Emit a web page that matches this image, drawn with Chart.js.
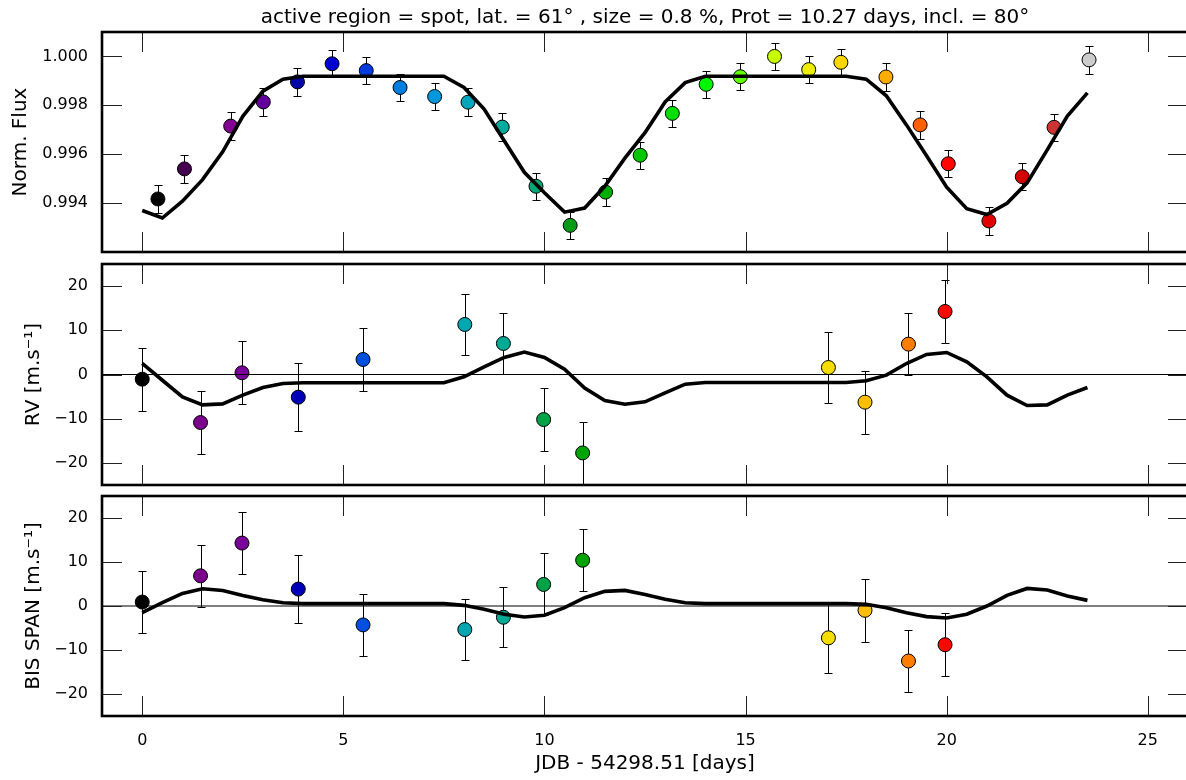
<!DOCTYPE html>
<html>
<head>
<meta charset="utf-8">
<script src="https://cdn.jsdelivr.net/npm/chart.js@4.4.0/dist/chart.umd.min.js"></script>
<style>
  body { margin: 0; background: #fff; overflow: hidden; width: 1186px; height: 780px; position: relative; }
  canvas { position: absolute; left: 0; }
</style>
</head>
<body>
<canvas id="fluxChart" width="1188" height="260" style="top:0px"></canvas>
<canvas id="rvChart" width="1188" height="236" style="top:256px"></canvas>
<canvas id="bisChart" width="1188" height="292" style="top:488px"></canvas>
<script>
// photometry (days since JDB 54298.51)
const fluxTime = [0.39, 1.05, 2.20, 3.01, 3.86, 4.72, 5.57, 6.41, 7.27, 8.10, 8.95, 9.79, 10.64, 11.52,
  12.38, 13.18, 14.02, 14.87, 15.72, 16.57, 17.37, 18.49, 19.34, 20.04, 21.05, 21.88, 22.67, 23.54];
const fluxValue = [0.99417, 0.99540, 0.99715, 0.99814, 0.99896, 0.99970, 0.99942, 0.99873, 0.99836, 0.99813,
  0.99711, 0.99469, 0.99309, 0.99445, 0.99596, 0.99767, 0.99886, 0.99917, 1.00000, 0.99946, 0.99976, 0.99916,
  0.99720, 0.99561, 0.99327, 0.99508, 0.99710, 0.99986];
const fluxErr = [0.00056, 0.00056, 0.00056, 0.00056, 0.00056, 0.00056, 0.00056, 0.00056, 0.00056, 0.00056,
  0.00056, 0.00056, 0.00056, 0.00056, 0.00056, 0.00056, 0.00056, 0.00056, 0.00056, 0.00056, 0.00056, 0.00056,
  0.00056, 0.00056, 0.00056, 0.00056, 0.00056, 0.00056];

// spectroscopy
const rvTime = [0.00, 1.45, 2.48, 3.88, 5.49, 8.02, 8.98, 9.98, 10.95, 17.06, 17.97, 19.05, 19.96];
const rvValue = [-1.06, -10.87, 0.38, -5.13, 3.40, 11.32, 7.02, -10.19, -17.74, 1.58, -6.26, 6.87, 14.26];
const rvErr = [7.1, 7.1, 7.1, 7.7, 7.05, 6.95, 6.9, 7.05, 7.05, 8.1, 7.1, 7.05, 7.1];
const bisValue = [0.90, 6.86, 14.30, 3.84, -4.30, -5.35, -2.56, 4.90, 10.40, -7.23, -0.98, -12.50, -8.80];
const bisErr = [7.1, 7.1, 7.1, 7.7, 7.05, 6.97, 6.8, 7.05, 7.0, 8.06, 7.1, 7.05, 7.1];

// spot model
const modelTime = [0, 0.5, 1, 1.5, 2, 2.5, 3, 3.5, 4, 4.5, 5, 5.5, 6, 6.5, 7, 7.5, 8, 8.5, 9, 9.5, 10, 10.5,
  11, 11.5, 12, 12.5, 13, 13.5, 14, 14.5, 15, 15.5, 16, 16.5, 17, 17.5, 18, 18.5, 19, 19.5, 20, 20.5, 21,
  21.5, 22, 22.5, 23, 23.5];
const fluxModel = [0.99370, 0.99339, 0.99408, 0.99496, 0.99610, 0.99755, 0.99858, 0.99907, 0.99919, 0.99919,
  0.99919, 0.99919, 0.99919, 0.99919, 0.99919, 0.99919, 0.99873, 0.99785, 0.99655, 0.99526, 0.99442, 0.99363,
  0.99380, 0.99469, 0.99584, 0.99688, 0.99814, 0.99893, 0.99919, 0.99919, 0.99919, 0.99919, 0.99919, 0.99919,
  0.99919, 0.99919, 0.99907, 0.99839, 0.99720, 0.99594, 0.99465, 0.99377, 0.99353, 0.99399, 0.99483, 0.99618,
  0.99756, 0.99851];
const rvModel = [2.5, -1.3, -5.06, -6.87, -6.64, -4.68, -2.94, -2.04, -1.85, -1.85, -1.85, -1.85, -1.85, -1.85,
  -1.85, -1.85, -0.53, 1.74, 3.85, 5.06, 3.85, 1.21, -3.09, -5.89, -6.72, -6.19, -4.15, -2.19, -1.8, -1.8, -1.8,
  -1.8, -1.8, -1.8, -1.8, -1.8, -1.43, -0.15, 2.49, 4.53, 4.98, 2.87, -0.53, -4.68, -7.02, -6.87, -4.68, -2.94];
const bisModel = [-1.5, 0.75, 2.86, 3.92, 3.54, 2.41, 1.43, 0.75, 0.53, 0.53, 0.53, 0.53, 0.53, 0.53, 0.53,
  0.53, 0.15, -0.75, -1.88, -2.49, -2.11, -0.38, 1.88, 3.32, 3.54, 2.64, 1.51, 0.75, 0.53, 0.53, 0.53, 0.53,
  0.53, 0.53, 0.53, 0.53, 0.38, -0.38, -1.51, -2.41, -2.71, -1.88, 0.0, 2.41, 3.99, 3.62, 2.26, 1.28];

// axes
const xRange = [-1, 26];
const xTicks = [0, 5, 10, 15, 20, 25];
const fluxRange = [0.992, 1.001];
const fluxTicks = [0.994, 0.996, 0.998, 1.000];
const msRange = [-25, 25];
const msTicks = [-20, -10, 0, 10, 20];

const titleText = 'active region = spot, lat. = 61° , size = 0.8 %, Prot = 10.27 days, incl. = 80°';
const FONT = "'DejaVu Sans', sans-serif";
const TICK = 20;

// nipy_spectral colour map, points coloured by date
const spectralStops = [
  [0, 0, 0], [0.4667, 0, 0.5333], [0.5333, 0, 0.6], [0, 0, 0.6667], [0, 0, 0.8667], [0, 0.4667, 0.8667],
  [0, 0.6, 0.8667], [0, 0.6667, 0.6667], [0, 0.6667, 0.5333], [0, 0.6, 0], [0, 0.7333, 0], [0, 0.8667, 0],
  [0, 1, 0], [0.7333, 1, 0], [0.9333, 0.9333, 0], [1, 0.8, 0], [1, 0.6, 0], [1, 0, 0], [0.8667, 0, 0],
  [0.8, 0, 0], [0.8, 0.8, 0.8]
];
function spectral(f) {
  f = Math.min(1, Math.max(0, f)) * 20;
  const i = Math.min(19, Math.floor(f)), w = f - i;
  const c = spectralStops[i].map((v, k) => Math.round(255 * (v + (spectralStops[i + 1][k] - v) * w)));
  return `rgb(${c[0]},${c[1]},${c[2]})`;
}
const tMax = Math.max(...fluxTime);
const colorsFor = (times, t0) => times.map(t => spectral((t - t0) / (tMax - t0)));

const pts = (xs, ys) => xs.map((x, i) => ({ x, y: ys[i] }));
const minus = v => (v < 0 ? '\u2212' + Math.abs(v) : String(v));

// inward ticks on all four sides + heavy frame
const framePlugin = {
  id: 'frame',
  afterDraw(chart) {
    const { ctx, chartArea: a, scales: { x, y } } = chart;
    ctx.save();
    ctx.strokeStyle = '#222';
    ctx.lineWidth = 1;
    ctx.beginPath();
    x.ticks.forEach(t => {
      const px = Math.round(x.getPixelForValue(t.value)) + 0.5;
      ctx.moveTo(px, a.top); ctx.lineTo(px, a.top + TICK);
      ctx.moveTo(px, a.bottom); ctx.lineTo(px, a.bottom - TICK);
    });
    y.ticks.forEach(t => {
      const py = Math.round(y.getPixelForValue(t.value)) + 0.5;
      ctx.moveTo(a.left, py); ctx.lineTo(a.left + TICK, py);
      ctx.moveTo(a.right, py); ctx.lineTo(a.right - TICK, py);
    });
    ctx.stroke();
    ctx.strokeStyle = '#000';
    ctx.lineWidth = 2.6;
    ctx.strokeRect(a.left, a.top, a.right - a.left, a.bottom - a.top);
    ctx.restore();
  }
};

// vertical error bars with caps, under the markers
const errorBarPlugin = {
  id: 'errorBars',
  beforeDatasetsDraw(chart) {
    const { ctx, chartArea: a, scales: { x, y } } = chart;
    ctx.save();
    ctx.beginPath();
    ctx.rect(a.left, a.top, a.right - a.left, a.bottom - a.top);
    ctx.clip();
    ctx.strokeStyle = '#000';
    ctx.lineWidth = 1;
    chart.data.datasets.forEach(ds => {
      if (!ds.errors) return;
      ds.data.forEach((p, i) => {
        const px = Math.round(x.getPixelForValue(p.x)) + 0.5;
        const top = Math.round(y.getPixelForValue(p.y + ds.errors[i])) + 0.5;
        const bot = Math.round(y.getPixelForValue(p.y - ds.errors[i])) + 0.5;
        ctx.beginPath();
        ctx.moveTo(px, top); ctx.lineTo(px, bot);
        ctx.moveTo(px - 4, top); ctx.lineTo(px + 4, top);
        ctx.moveTo(px - 4, bot); ctx.lineTo(px + 4, bot);
        ctx.stroke();
      });
    });
    ctx.restore();
  }
};

function makePanel(id, cfg) {
  const datasets = [
    {
      label: 'model',
      data: pts(modelTime, cfg.model),
      showLine: true,
      borderColor: '#000',
      borderWidth: 3.6,
      pointRadius: 0,
      tension: 0,
      order: 0
    },
    {
      label: 'data',
      data: pts(cfg.times, cfg.values),
      errors: cfg.errors,
      pointRadius: 7,
      pointBackgroundColor: colorsFor(cfg.times, cfg.t0),
      pointBorderColor: '#000',
      pointBorderWidth: 1,
      order: 2
    }
  ];
  if (cfg.zeroLine) {
    datasets.push({
      label: 'zero',
      data: [{ x: xRange[0], y: 0 }, { x: xRange[1], y: 0 }],
      showLine: true,
      borderColor: '#000',
      borderWidth: 1.2,
      pointRadius: 0,
      order: 1
    });
  }

  return new Chart(document.getElementById(id), {
    type: 'scatter',
    data: { datasets },
    options: {
      responsive: false,
      animation: false,
      layout: { padding: cfg.padding, autoPadding: false },
      plugins: {
        legend: { display: false },
        tooltip: { enabled: false },
        title: cfg.title ? {
          display: true,
          fullSize: false,
          text: cfg.title,
          color: '#000',
          font: { family: FONT, size: 20, weight: 'normal', lineHeight: 1.2 },
          padding: { top: 6, bottom: 2 }
        } : { display: false }
      },
      scales: {
        x: {
          type: 'linear',
          min: xRange[0],
          max: xRange[1],
          afterBuildTicks: s => { s.ticks = xTicks.map(v => ({ value: v })); },
          afterFit: s => { s.height = cfg.xLabel ? 64 : 0; s.paddingLeft = 0; s.paddingRight = 0; },
          grid: { display: false, drawTicks: false },
          border: { display: false },
          ticks: {
            display: !!cfg.xLabel,
            autoSkip: false,
            maxRotation: 0,
            padding: 15,
            color: '#000',
            font: { family: FONT, size: 16 }
          },
          title: {
            display: !!cfg.xLabel,
            text: cfg.xLabel || '',
            color: '#000',
            font: { family: FONT, size: 20 },
            padding: { top: 0, bottom: 4 }
          }
        },
        y: {
          type: 'linear',
          min: cfg.range[0],
          max: cfg.range[1],
          afterBuildTicks: s => { s.ticks = cfg.ticks.map(v => ({ value: v })); },
          afterFit: s => { s.width = 102; s.paddingTop = 0; s.paddingBottom = 0; },
          grid: { display: false, drawTicks: false },
          border: { display: false },
          ticks: {
            autoSkip: false,
            padding: 14,
            color: '#000',
            font: { family: FONT, size: 16 },
            callback: cfg.format
          },
          title: {
            display: true,
            text: cfg.yLabel,
            color: '#000',
            font: { family: FONT, size: 20 },
            padding: { top: cfg.yTitlePad, bottom: 0 }
          }
        }
      }
    },
    plugins: [errorBarPlugin, framePlugin]
  });
}

// === FLUX ===
makePanel('fluxChart', {
  times: fluxTime, values: fluxValue, errors: fluxErr, model: fluxModel, t0: fluxTime[0],
  range: fluxRange, ticks: fluxTicks, format: v => v.toFixed(3),
  yLabel: 'Norm. Flux', yTitlePad: 9,
  title: titleText,
  padding: { top: 0, bottom: 8, left: 0, right: 0 }
});

// === RV ===
makePanel('rvChart', {
  times: rvTime, values: rvValue, errors: rvErr, model: rvModel, zeroLine: true, t0: 0,
  range: msRange, ticks: msTicks, format: minus,
  yLabel: 'RV [m.s\u207B\u00B9]', yTitlePad: 22,
  padding: { top: 8, bottom: 7, left: 0, right: 0 }
});

// === BIS SPAN ===
makePanel('bisChart', {
  times: rvTime, values: bisValue, errors: bisErr, model: bisModel, zeroLine: true, t0: 0,
  range: msRange, ticks: msTicks, format: minus,
  yLabel: 'BIS SPAN [m.s\u207B\u00B9]', yTitlePad: 22,
  xLabel: 'JDB - 54298.51 [days]',
  padding: { top: 8, bottom: 0, left: 0, right: 0 }
});
</script>
</body>
</html>
